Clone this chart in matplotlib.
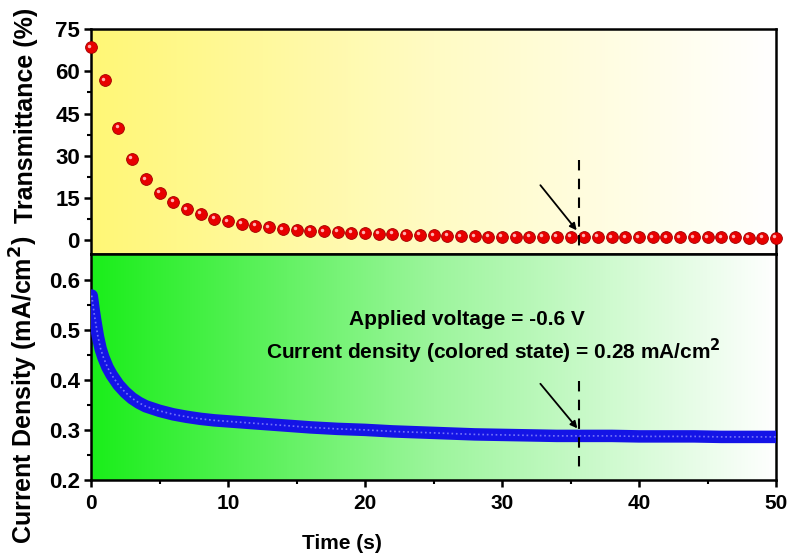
import numpy as np
import matplotlib
matplotlib.use("Agg")
import matplotlib.pyplot as plt
from matplotlib.colors import LinearSegmentedColormap
import matplotlib.transforms as mtransforms

plt.rcParams['font.family'] = ['Liberation Sans', 'DejaVu Sans']
plt.rcParams['font.weight'] = 'bold'

# transmittance, one point per second
time_T = list(range(0, 51))
transmittance = [68.5, 56.8, 39.9, 29.0, 21.7, 16.9, 13.6, 11.0, 9.5, 7.7,
                 6.8, 5.9, 5.1, 4.6, 4.0, 3.7, 3.3, 3.2, 2.95, 2.7,
                 2.5, 2.4, 2.25, 2.1, 1.9, 1.8, 1.65, 1.5, 1.45, 1.4,
                 1.35, 1.3, 1.3, 1.25, 1.25, 1.2, 1.2, 1.2, 1.15, 1.15,
                 1.15, 1.1, 1.1, 1.1, 1.1, 1.05, 1.05, 1.05, 1.0, 1.0, 1.0]

# current density (chronoamperometry)
time_J = [0.05, 0.1, 0.2, 0.3, 0.5, 0.7, 0.9, 1.2, 1.5, 2.0, 2.5, 3.0, 3.5, 4.0,
          5, 6, 7, 8, 9, 10, 12, 14, 16, 18, 20, 22, 24, 26, 28, 30,
          32, 34, 36, 38, 40, 42, 44, 46, 48, 50]
current = [0.568, 0.558, 0.538, 0.52, 0.487, 0.462, 0.445, 0.425, 0.41, 0.39,
           0.375, 0.363, 0.354, 0.347, 0.338, 0.331, 0.326, 0.322, 0.319, 0.317,
           0.313, 0.309, 0.305, 0.302, 0.300, 0.297, 0.295, 0.293, 0.291, 0.290,
           0.289, 0.288, 0.288, 0.288, 0.287, 0.287, 0.287, 0.286, 0.286, 0.286]

x_ticks = [0, 10, 20, 30, 40, 50]
t_ticks = [0, 15, 30, 45, 60, 75]
j_ticks = [0.2, 0.3, 0.4, 0.5, 0.6]
t_mark = 35.6

fig = plt.figure(figsize=(7.9, 5.56), dpi=100)
ax1 = fig.add_axes([0.1152, 0.5432, 0.8671, 0.4046])
ax2 = fig.add_axes([0.1152, 0.1367, 0.8671, 0.4065], sharex=ax1)

# gradient backgrounds
grad = np.linspace(0, 1, 256).reshape(1, -1)
cm_y = LinearSegmentedColormap.from_list('y', ['#fff776', '#fffbc4', '#ffffff'])
cm_g = LinearSegmentedColormap.from_list('g', ['#1aee1a', '#9cf59c', '#ffffff'])
ax1.imshow(grad, cmap=cm_y, aspect='auto', extent=[0, 1, 0, 1],
           transform=ax1.transAxes, zorder=0)
ax2.imshow(grad, cmap=cm_g, aspect='auto', extent=[0, 1, 0, 1],
           transform=ax2.transAxes, zorder=0)

# red spheres
ax1.plot(time_T, transmittance, 'o', ms=8.5, mfc='#e80000', mec='#a00000',
         mew=0.6, zorder=3, clip_on=False)
hl = mtransforms.offset_copy(ax1.transData, fig=fig, x=-1.2, y=1.2, units='points')
ax1.plot(time_T, transmittance, 'o', ms=2.5, mfc='#ffb0b0', mec='none',
         transform=hl, zorder=4, clip_on=False)

# blue band
ax2.plot(time_J, current, '-', lw=9, color='#1414e6', solid_capstyle='round', zorder=3)
ax2.plot(time_J, current, ':', lw=1.2, color='#8c8cff', alpha=0.8, zorder=4)

# marker lines and arrows
ax1.plot([t_mark, t_mark], [28.4, -3.6], ls=(0, (5, 4)), color='black', lw=1.5, zorder=5)
ax2.plot([t_mark, t_mark], [0.397, 0.217], ls=(0, (5, 4)), color='black', lw=1.5, zorder=5)
ax1.annotate('', xy=(35.45, 3.6), xytext=(32.8, 19.6),
             arrowprops=dict(arrowstyle='-|>', color='black', lw=1.3,
                             mutation_scale=10, shrinkA=0, shrinkB=0), zorder=6)
ax2.annotate('', xy=(35.5, 0.303), xytext=(32.8, 0.392),
             arrowprops=dict(arrowstyle='-|>', color='black', lw=1.3,
                             mutation_scale=10, shrinkA=0, shrinkB=0), zorder=6)

ax2.text(27.4, 0.52, 'Applied voltage = -0.6 V', ha='center', va='center',
         fontsize=15, fontweight='bold')
ax2.text(29.4, 0.456, 'Current density (colored state) = 0.28 mA/cm$^{\\mathbf{2}}$',
         ha='center', va='center', fontsize=15, fontweight='bold')

# axes
ax1.set_xlim(0, 50)
ax1.set_ylim(-4.8, 75)
ax2.set_ylim(0.2, 0.651)

ax1.set_yticks(t_ticks)
ax1.set_yticks(np.arange(7.5, 75, 15), minor=True)
ax2.set_yticks(j_ticks)
ax2.set_yticks(np.arange(0.25, 0.65, 0.1), minor=True)
ax2.set_xticks(x_ticks)
ax2.set_xticks(range(5, 50, 10), minor=True)

for ax in (ax1, ax2):
    for s in ax.spines.values():
        s.set_linewidth(1.8)
    ax.tick_params(which='major', direction='out', length=5, width=1.8,
                   labelsize=16, pad=3)
    ax.tick_params(which='minor', direction='out', length=3, width=1.5)
    ax.set_axisbelow(False)

ax1.tick_params(axis='x', which='both', bottom=False, labelbottom=False)
ax2.tick_params(axis='x', labelsize=15, pad=5)

ax1.set_ylabel('Transmittance (%)', fontsize=18, fontweight='bold')
ax1.yaxis.set_label_coords(-0.078, 0.617)
ax2.set_ylabel('Current Density (mA/cm$^{\\mathbf{2}}$)', fontsize=18, fontweight='bold')
ax2.yaxis.set_label_coords(-0.075, 0.40)
ax2.set_xlabel('Time (s)', fontsize=15, fontweight='bold')
ax2.xaxis.set_label_coords(0.366, -0.24)

fig.savefig('out.png', dpi=100)
